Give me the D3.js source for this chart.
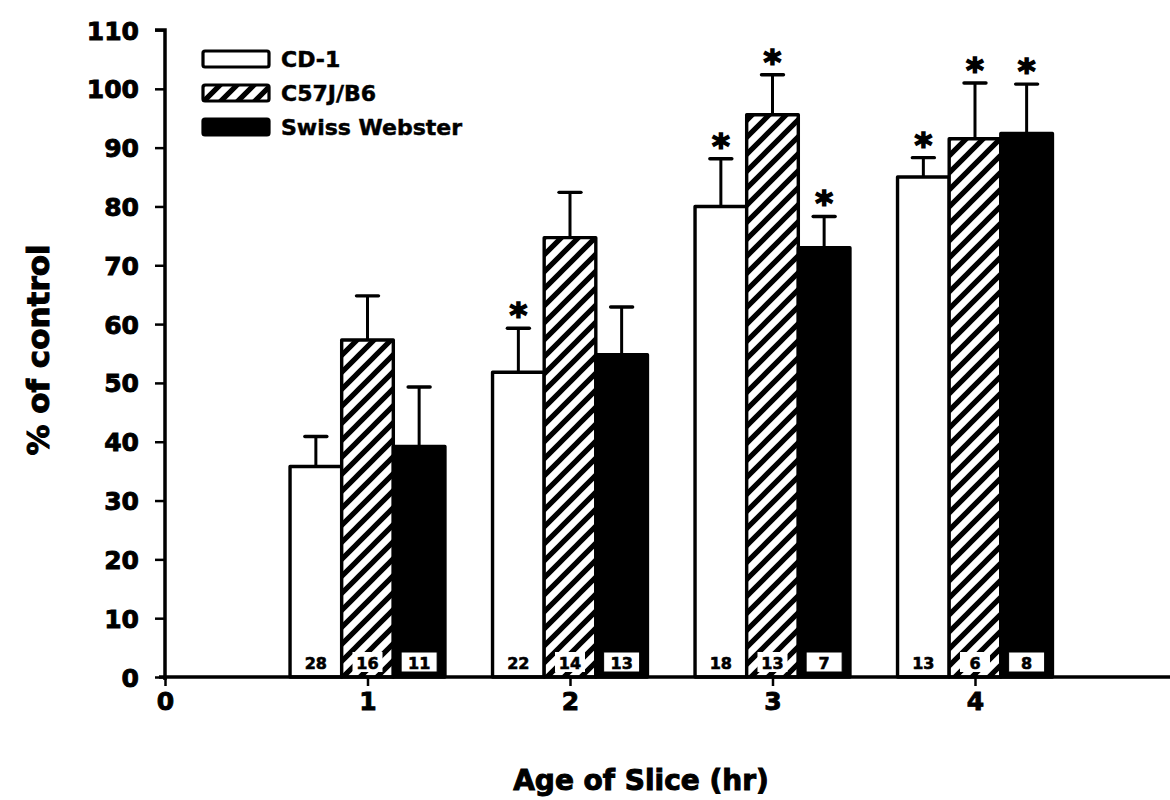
<!DOCTYPE html>
<html>
<head>
<meta charset="utf-8">
<script src="https://cdn.jsdelivr.net/npm/d3@7"></script>
<style>
  html, body { margin: 0; padding: 0; background: #fff; }
  svg text { font-family: "DejaVu Sans", "Liberation Sans", Arial, sans-serif; font-weight: bold; fill: #000; }
</style>
</head>
<body>
<svg id="chart" width="1170" height="800"></svg>
<script>
// Slice age groups (hr)
const ages = [1, 2, 3, 4];
const strains = ["CD-1", "C57J/B6", "Swiss Webster"];

// Mean response (% of control) per strain
const cd1Mean = [35.8, 51.8, 80.0, 85.0];
const c57Mean = [57.3, 74.7, 95.6, 91.5];
const swissMean = [39.2, 54.8, 73.0, 92.4];

// Upper error (mean + SEM)
const cd1Upper = [40.9, 59.3, 88.1, 88.3];
const c57Upper = [64.8, 82.4, 102.4, 101.0];
const swissUpper = [49.3, 62.9, 78.3, 100.8];

// Significance markers
const cd1Star = [false, true, true, true];
const c57Star = [false, false, true, true];
const swissStar = [false, false, true, true];

// Sample sizes
const cd1N = [28, 22, 18, 13];
const c57N = [16, 14, 13, 6];
const swissN = [11, 13, 7, 8];

const yTicks = [0, 10, 20, 30, 40, 50, 60, 70, 80, 90, 100, 110];
const xTicks = [0, 1, 2, 3, 4];

const series = [
  { name: strains[0], mean: cd1Mean, upper: cd1Upper, star: cd1Star, n: cd1N, style: "open" },
  { name: strains[1], mean: c57Mean, upper: c57Upper, star: c57Star, n: c57N, style: "hatch" },
  { name: strains[2], mean: swissMean, upper: swissUpper, star: swissStar, n: swissN, style: "solid" }
];

const svg = d3.select("#chart");

const defs = svg.append("defs");
const pat = defs.append("pattern")
  .attr("id", "diag")
  .attr("patternUnits", "userSpaceOnUse")
  .attr("width", 17).attr("height", 17);
pat.append("rect").attr("width", 17).attr("height", 17).attr("fill", "#fff");
pat.append("path")
  .attr("d", "M-4,4 L4,-4 M0,17 L17,0 M13,21 L21,13")
  .attr("stroke", "#000").attr("stroke-width", 5.2);

const x = d3.scaleLinear().domain([0, 4.963]).range([165, 1170]);
const y = d3.scaleLinear().domain([0, 110]).range([677, 30]);

const barW = 0.255;
const offsets = [-1.5 * barW, -0.5 * barW, 0.5 * barW];

const fillFor = s => s === "open" ? "#fff" : s === "hatch" ? "url(#diag)" : "#000";

// Bars, error bars and significance stars
series.forEach((s, si) => {
  const g = svg.append("g");
  ages.forEach((a, i) => {
    const x0 = x(a + offsets[si]);
    const x1 = x(a + offsets[si] + barW);
    const cx = (x0 + x1) / 2;
    // error bar (upper only)
    g.append("line")
      .attr("x1", cx).attr("x2", cx)
      .attr("y1", y(s.mean[i])).attr("y2", y(s.upper[i]))
      .attr("stroke", "#000").attr("stroke-width", 3);
    g.append("line")
      .attr("x1", cx - 11).attr("x2", cx + 11)
      .attr("y1", y(s.upper[i])).attr("y2", y(s.upper[i]))
      .attr("stroke", "#000").attr("stroke-width", 3.4)
      .attr("stroke-linecap", "round");
    g.append("rect")
      .attr("x", x0).attr("y", y(s.mean[i]))
      .attr("width", x1 - x0).attr("height", y(0) - y(s.mean[i]))
      .attr("fill", fillFor(s.style))
      .attr("stroke", "#000").attr("stroke-width", 3.4)
      .attr("stroke-linejoin", "round");
    if (s.star[i]) {
      g.append("text")
        .attr("x", cx).attr("y", y(s.upper[i]) - 1)
        .attr("text-anchor", "middle")
        .style("font-size", "34px")
        .attr("stroke", "#000").attr("stroke-width", 1.6)
        .text("*");
    }
    // sample size label
    const ny = y(0) - 5;
    if (s.style !== "open") {
      const bw = s.style === "hatch" ? 30 : 36;
      g.append("rect")
        .attr("x", cx - bw / 2).attr("y", ny - 20)
        .attr("width", bw).attr("height", 20)
        .attr("fill", "#fff")
        .attr("stroke", s.style === "solid" ? "#000" : "none");
    }
    g.append("text")
      .attr("x", cx).attr("y", ny - 3.5)
      .attr("text-anchor", "middle")
      .style("font-size", "16px")
      .attr("stroke", "#000").attr("stroke-width", 0.6)
      .text(s.n[i]);
  });
});

// Axes
const yAxis = d3.axisLeft(y).tickValues(yTicks).tickSize(10).tickPadding(16);
const gy = svg.append("g").attr("transform", `translate(${x(0)},0)`).call(yAxis);
gy.select(".domain").attr("stroke", "#000").attr("stroke-width", 3.5).attr("d", `M-10,${y(110)}H0V${y(0) + 3}`);
gy.selectAll(".tick line").attr("stroke", "#000").attr("stroke-width", 2.5);
gy.selectAll(".tick text")
  .style("font-size", "25px")
  .style("font-family", "'DejaVu Sans', 'Liberation Sans', Arial, sans-serif")
  .style("font-weight", "bold")
  .attr("stroke", "#000").attr("stroke-width", 0.9)
  .attr("dy", "0.36em");

const xAxis = d3.axisBottom(x).tickValues(xTicks).tickSize(9).tickPadding(6).tickFormat(d3.format("d"));
const gx = svg.append("g").attr("transform", `translate(0,${y(0)})`).call(xAxis);
gx.select(".domain").attr("stroke", "#000").attr("stroke-width", 3.5).attr("d", `M${x(0) - 6},0H1170`);
gx.selectAll(".tick line").attr("stroke", "#000").attr("stroke-width", 2.5);
gx.selectAll(".tick text")
  .style("font-size", "25px")
  .style("font-family", "'DejaVu Sans', 'Liberation Sans', Arial, sans-serif")
  .style("font-weight", "bold")
  .attr("stroke", "#000").attr("stroke-width", 0.9);

// Axis titles
svg.append("text")
  .attr("transform", `translate(49,350) rotate(-90)`)
  .attr("text-anchor", "middle")
  .style("font-size", "31px")
  .attr("stroke", "#000").attr("stroke-width", 1)
  .text("% of control");

svg.append("text")
  .attr("x", 641).attr("y", 790)
  .attr("text-anchor", "middle")
  .style("font-size", "28px")
  .attr("stroke", "#000").attr("stroke-width", 1)
  .text("Age of Slice (hr)");

// Legend
const legend = svg.append("g").attr("transform", "translate(203,51)");
series.forEach((s, i) => {
  const row = legend.append("g").attr("transform", `translate(0,${i * 34})`);
  row.append("rect")
    .attr("x", 0).attr("y", 0).attr("width", 66).attr("height", 16)
    .attr("rx", 2)
    .attr("fill", fillFor(s.style))
    .attr("stroke", "#000").attr("stroke-width", 3.2);
  row.append("text")
    .attr("x", 78).attr("y", 16)
    .style("font-size", "22px")
    .attr("stroke", "#000").attr("stroke-width", 0.5)
    .text(s.name);
});
</script>
</body>
</html>
